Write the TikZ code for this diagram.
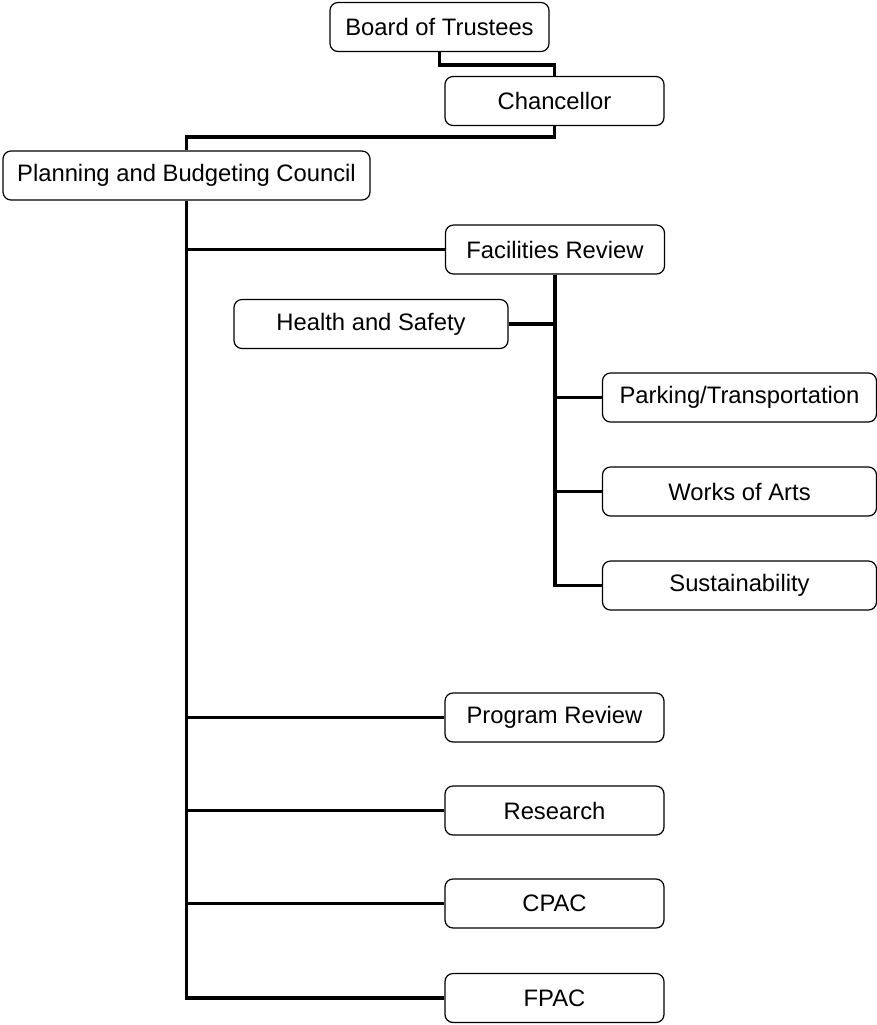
\documentclass[tikz,border=0pt]{standalone}
\usepackage{fontspec}
\setmainfont{Liberation Sans}
\usetikzlibrary{positioning}

\begin{document}
\begin{tikzpicture}[
  x=0.5pt, y=-0.5pt,
  unit/.style={
    rectangle, rounded corners=4pt, draw=black, line width=0.6pt,
    fill=white, minimum width=109.5pt, minimum height=24.5pt,
    inner sep=0pt, font=\fontsize{11.9}{14}\selectfont
  },
  wideunit/.style={unit, minimum width=137pt},
  link/.style={line width=1.7pt, black},
]
\useasboundingbox (0,0) rectangle (877,1025);

% ── Nodes ──
\node[unit] (board) at (439.5,27) {Board of Trustees};
\node[unit] (chancellor) at (554.5,101) {Chancellor};
\node[unit, minimum width=183.5pt] (pbc) at (186.5,175.5) {Planning and Budgeting Council};

\node[unit] (facilities) at (555,249.5) {Facilities Review};
\node[wideunit] (health) at (371,324) {Health and Safety};
\node[wideunit] (parking) at (739.5,397.5) {Parking/Transportation};
\node[wideunit] (works) at (739.5,491.5) {Works of Arts};
\node[wideunit] (sustain) at (739.5,585.5) {Sustainability};

\node[unit] (program) at (554.5,717.5) {Program Review};
\node[unit] (research) at (554.5,810.5) {Research};
\node[unit] (cpac) at (554.5,903.5) {CPAC};
\node[unit] (fpac) at (554.5,998) {FPAC};

% ── Edges ──
\draw[link] (board.south) -- ++(0,13) -| (chancellor.north);
\draw[link] (chancellor.south) -- ++(0,11) -| (pbc.north);

\draw[link] (pbc.south) |- (fpac.west);
\foreach \n in {facilities,program,research,cpac}
  \draw[link] (pbc.south |- \n.west) -- (\n.west);

\draw[link] (facilities.south) |- (sustain.west);
\foreach \n in {parking,works}
  \draw[link] (facilities.south |- \n.west) -- (\n.west);
\draw[link] (health.east) -- (facilities.south |- health.east);
\end{tikzpicture}
\end{document}
